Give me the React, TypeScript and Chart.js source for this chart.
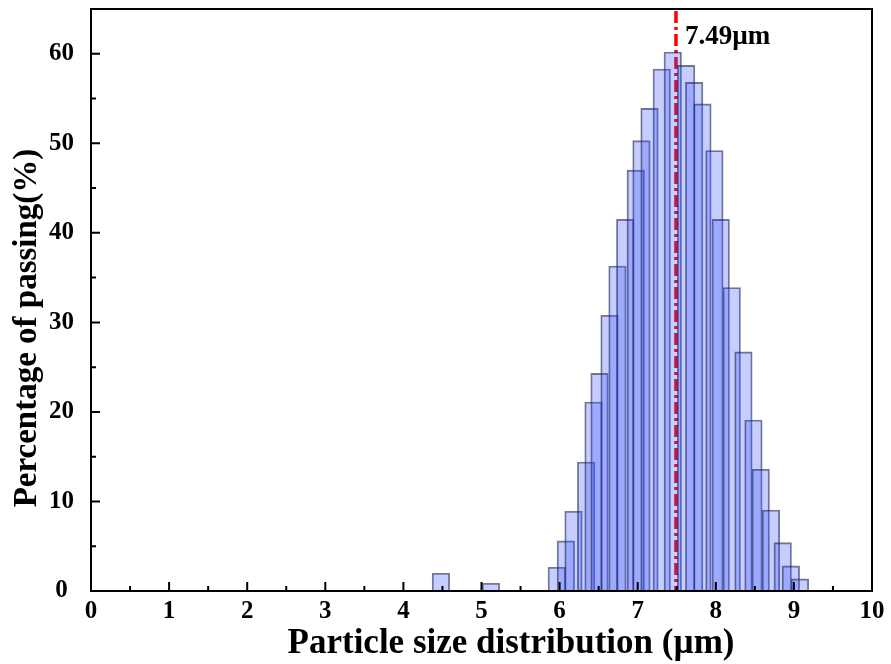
import React, { useEffect, useRef } from 'react';
import { Chart, registerables } from 'chart.js';

Chart.register(...registerables);

// ---- data ----
const particleSizes = [
  4.48, 5.12, 5.964, 6.08, 6.178, 6.34, 6.434, 6.511, 6.639, 6.741, 6.84, 6.975, 7.048, 7.151,
  7.308, 7.449, 7.62, 7.723, 7.829, 7.982, 8.063, 8.204, 8.354, 8.482, 8.575, 8.706, 8.857,
  8.961, 9.077,
];
const passingPercent = [
  1.98, 0.86, 2.65, 5.6, 8.9, 14.4, 21.1, 24.3, 30.8, 36.3, 41.5, 47.0, 50.3, 53.9,
  58.3, 60.2, 58.7, 56.8, 54.4, 49.2, 41.5, 33.9, 26.7, 19.1, 13.6, 9.05, 5.4,
  2.8, 1.35,
];
const xTickValues = [0, 1, 2, 3, 4, 5, 6, 7, 8, 9, 10];
const xMinorTickValues = [0.5, 1.5, 2.5, 3.5, 4.5, 5.5, 6.5, 7.5, 8.5, 9.5];
const yTickValues = [0, 10, 20, 30, 40, 50, 60];
const yMinorTickValues = [5, 15, 25, 35, 45, 55];
const medianSize = 7.49;
const medianLabel = '7.49µm';
const xTitle = 'Particle size distribution (µm)';
const yTitle = 'Percentage of passing(%)';

const FONT = "'Liberation Serif', 'Times New Roman', serif";

const decorations = {
  id: 'decorations',
  beforeDatasetsDraw(chart: any) {
    const { ctx, chartArea: a, scales } = chart;
    const px = scales.x.getPixelForValue(medianSize);
    ctx.save();
    ctx.strokeStyle = '#ff0000';
    ctx.lineWidth = 3.5;
    ctx.setLineDash([12, 4, 3, 4]);
    ctx.beginPath();
    ctx.moveTo(px, a.top + 2);
    ctx.lineTo(px, a.bottom);
    ctx.stroke();
    ctx.restore();
  },
  afterDraw(chart: any) {
    const { ctx, chartArea: a, scales } = chart;
    const x = scales.x;
    const y = scales.y;
    ctx.save();
    // frame
    ctx.strokeStyle = '#000';
    ctx.lineWidth = 2;
    ctx.strokeRect(a.left, a.top, a.right - a.left, a.bottom - a.top);
    // ticks (inward)
    ctx.lineWidth = 2;
    ctx.beginPath();
    xTickValues.forEach((v) => {
      const p = x.getPixelForValue(v);
      ctx.moveTo(p, a.bottom);
      ctx.lineTo(p, a.bottom - 9);
    });
    xMinorTickValues.forEach((v) => {
      const p = x.getPixelForValue(v);
      ctx.moveTo(p, a.bottom);
      ctx.lineTo(p, a.bottom - 5);
    });
    yTickValues.forEach((v) => {
      const p = y.getPixelForValue(v);
      ctx.moveTo(a.left, p);
      ctx.lineTo(a.left + 9, p);
    });
    yMinorTickValues.forEach((v) => {
      const p = y.getPixelForValue(v);
      ctx.moveTo(a.left, p);
      ctx.lineTo(a.left + 5, p);
    });
    ctx.stroke();

    // median label
    ctx.fillStyle = '#000';
    ctx.font = `bold 27px ${FONT}`;
    ctx.textAlign = 'left';
    ctx.textBaseline = 'middle';
    ctx.fillText(medianLabel, x.getPixelForValue(medianSize) + 9, a.top + 28);

    // axis titles
    ctx.font = `bold 35px ${FONT}`;
    ctx.textAlign = 'center';
    ctx.textBaseline = 'middle';
    ctx.fillText(xTitle, 511, 644);
    ctx.save();
    ctx.translate(27, 328);
    ctx.rotate(-Math.PI / 2);
    ctx.font = `bold 33px ${FONT}`;
    ctx.fillText(yTitle, 0, 0);
    ctx.restore();
    ctx.restore();
  },
};

export default function App() {
  const ref = useRef<HTMLCanvasElement | null>(null);
  useEffect(() => {
    if (!ref.current) return;
    const chart = new Chart(ref.current, {
      type: 'bar',
      data: {
        datasets: [
          {
            data: particleSizes.map((s, i) => ({ x: s, y: passingPercent[i] })),
            backgroundColor: 'rgba(45, 75, 255, 0.27)',
            borderColor: 'rgba(30, 30, 70, 0.6)',
            borderWidth: 1.2,
            barThickness: 17.5,
          } as any,
        ],
      },
      options: {
        animation: false,
        responsive: true,
        maintainAspectRatio: false,
        layout: { padding: { top: 9, right: 19, left: 0, bottom: 0 } },
        plugins: { legend: { display: false }, tooltip: { enabled: false } },
        scales: {
          x: {
            type: 'linear',
            min: 0,
            max: 10,
            offset: false,
            afterBuildTicks: (s: any) => {
              s.ticks = xTickValues.map((v) => ({ value: v }));
            },
            afterFit: (s: any) => {
              s.height = 73;
              s.paddingLeft = 0;
              s.paddingRight = 0;
            },
            grid: { display: false, drawTicks: false },
            border: { display: false },
            ticks: {
              color: '#000',
              padding: 6,
              maxRotation: 0,
              font: { family: FONT, size: 25, weight: 'bold' },
            },
          },
          y: {
            type: 'linear',
            min: 0,
            max: 65,
            afterBuildTicks: (s: any) => {
              s.ticks = yTickValues.map((v) => ({ value: v }));
            },
            afterFit: (s: any) => {
              s.width = 91;
              s.paddingTop = 0;
              s.paddingBottom = 0;
            },
            grid: { display: false, drawTicks: false },
            border: { display: false },
            ticks: {
              color: '#000',
              padding: 17,
              crossAlign: 'center',
              font: { family: FONT, size: 25, weight: 'bold' },
            },
          },
        },
      } as any,
      plugins: [decorations],
    });
    return () => chart.destroy();
  }, []);
  return (
    <div style={{ position: 'fixed', left: 0, top: 0, width: 891, height: 664, background: '#fff' }}>
      <canvas ref={ref} />
    </div>
  );
}
